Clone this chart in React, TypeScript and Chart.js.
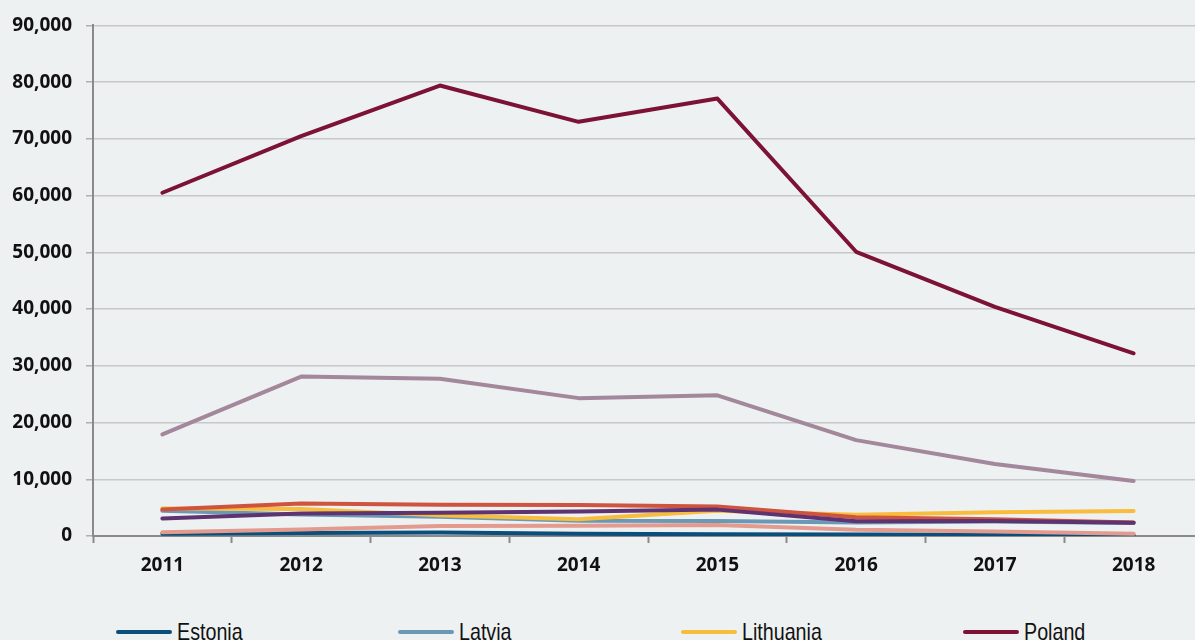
import React, { useEffect, useRef } from "react";
import { Chart, registerables } from "chart.js";

Chart.register(...registerables);

const years = ["2011", "2012", "2013", "2014", "2015", "2016", "2017", "2018"];
const yTicksMax = 90000;
const yTicksStep = 10000;

const estonia = [400, 550, 600, 400, 300, 250, 220, 120];
const latvia = [4450, 3800, 3400, 2700, 2650, 2400, 2550, 2300];
const lithuania = [4850, 4750, 3650, 2950, 4450, 3750, 4200, 4400];
const poland = [60500, 70500, 79400, 73000, 77100, 50100, 40400, 32200];
const seriesE = [4650, 5750, 5500, 5450, 5200, 3300, 2950, 2400];
const seriesF = [3100, 3950, 4100, 4300, 4650, 2600, 2650, 2350];
const seriesG = [650, 1150, 1750, 1800, 1950, 1100, 800, 400];
const seriesH = [17900, 28100, 27700, 24300, 24800, 16900, 12700, 9700];

const seriesNames = ["Estonia", "Latvia", "Lithuania", "Poland", "Series 5", "Series 6", "Series 7", "Series 8"];
const seriesValues = [estonia, latvia, lithuania, poland, seriesE, seriesF, seriesG, seriesH];
const seriesColors = ["#0a4e7b", "#6b99b5", "#f8bd3d", "#7c1234", "#cf5440", "#5f3370", "#e49b8f", "#a3879b"];

const BG = "#eef1f2";
const TICK_FONT = { family: "'Open Sans', 'DejaVu Sans', sans-serif", size: 19, weight: "bold" as const };

export default function App() {
  const ref = useRef<HTMLCanvasElement | null>(null);

  useEffect(() => {
    if (!ref.current) return;
    const n = seriesNames.length;
    const chart = new Chart(ref.current, {
      type: "line",
      data: {
        labels: years,
        datasets: seriesNames.map((name, i) => ({
          label: name,
          data: seriesValues[i],
          borderColor: seriesColors[i],
          backgroundColor: seriesColors[i],
          borderWidth: 4,
          borderCapStyle: "round" as const,
          borderJoinStyle: "round" as const,
          pointRadius: 0,
          pointHoverRadius: 0,
          tension: 0,
          fill: false,
          order: n - i,
        })),
      },
      options: {
        responsive: false,
        maintainAspectRatio: false,
        animation: false,
        layout: { padding: { top: 23, right: 2, left: 0, bottom: 0 } },
        plugins: {
          legend: { display: false },
          tooltip: { enabled: false },
        },
        scales: {
          x: {
            type: "category",
            offset: true,
            afterFit: (s: any) => {
              s.height = 64;
            },
            grid: {
              offset: true,
              drawOnChartArea: false,
              drawTicks: true,
              tickLength: 7,
              tickColor: "#8a8a8a",
              tickWidth: 2,
            },
            border: { display: true, color: "#8a8a8a", width: 2 },
            ticks: {
              color: "#111111",
              font: TICK_FONT,
              padding: 11,
              maxRotation: 0,
              autoSkip: false,
            },
          },
          y: {
            min: 0,
            max: yTicksMax,
            afterFit: (s: any) => {
              s.width = 93;
            },
            grid: {
              color: "#c8c8c8",
              lineWidth: 1.5,
              drawTicks: true,
              tickLength: 7,
              tickColor: "#b0b0b0",
            },
            border: { display: true, color: "#8a8a8a", width: 2 },
            ticks: {
              stepSize: yTicksStep,
              color: "#111111",
              font: TICK_FONT,
              padding: 14,
              callback: (v: any) => Number(v).toLocaleString("en-US"),
            },
          },
        },
      },
    });
    return () => chart.destroy();
  }, []);

  return (
    <div
      style={{
        position: "fixed",
        left: 0,
        top: 0,
        width: 1195,
        height: 640,
        overflow: "hidden",
        background: BG,
      }}
    >
      <canvas ref={ref} width={1205} height={600} style={{ position: "absolute", left: 0, top: 0 }} />
      {seriesNames.map((name, i) => {
        const col = i % 4;
        const row = Math.floor(i / 4);
        const left = 116 + col * 282.3;
        const top = 620 + row * 40;
        return (
          <div key={name} style={{ position: "absolute", left, top, height: 24, whiteSpace: "nowrap" }}>
            <div
              style={{
                position: "absolute",
                left: 0,
                top: 10,
                width: 56,
                height: 4,
                borderRadius: 2,
                background: seriesColors[i],
              }}
            />
            <span
              style={{
                position: "absolute",
                left: 61,
                top: 0,
                fontFamily: "'Liberation Sans', Arial, sans-serif",
                fontSize: 24,
                lineHeight: "24px",
                color: "#111",
                transform: "scaleX(0.82)",
                transformOrigin: "left center",
                display: "inline-block",
              }}
            >
              {name}
            </span>
          </div>
        );
      })}
    </div>
  );
}
